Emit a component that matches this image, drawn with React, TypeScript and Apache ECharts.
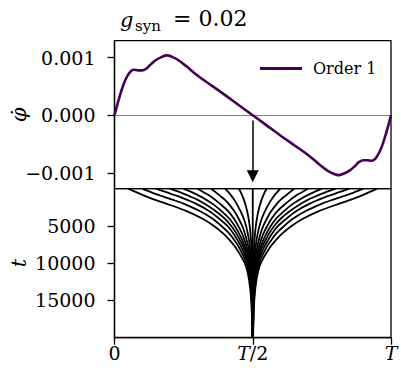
import { useEffect, useRef } from "react";
import * as echarts from "echarts";

const FONT = "DejaVu Serif";

// Top panel: phase (fraction of T) and phi-dot values
const phaseTop = [0, 0.01, 0.02, 0.03, 0.04, 0.05, 0.06, 0.07, 0.085, 0.1, 0.115, 0.13, 0.15, 0.17, 0.19, 0.21, 0.23, 0.26, 0.3, 0.35, 0.4, 0.45, 0.5,
  0.55, 0.6, 0.65, 0.7, 0.74, 0.77, 0.79, 0.81, 0.83, 0.85, 0.87, 0.885, 0.9, 0.915, 0.93, 0.94, 0.95, 0.96, 0.97, 0.98, 0.99, 1.0];
const phiDot = [0, 0.00018, 0.00035, 0.0005, 0.00062, 0.00071, 0.00077, 0.00079, 0.00078, 0.00078, 0.00081, 0.00088, 0.00096, 0.00101, 0.00104, 0.00101, 0.00096, 0.00085, 0.00069, 0.00052, 0.00035, 0.000175, 0,
  -0.000175, -0.00035, -0.00052, -0.00069, -0.00085, -0.00096, -0.00101, -0.00104, -0.00101, -0.00096, -0.00088, -0.00081, -0.00078, -0.00078, -0.00079, -0.00077, -0.00071, -0.00062, -0.0005, -0.00035, -0.00018, 0];

const yTicksTop = [-0.001, 0, 0.001];
const yTicksBottom = [5000, 10000, 15000];
const xTicks = [0, 0.5, 1];
const xTickLabels = ["0", "{i|T}/2", "{i|T}"];

// Bottom panel: time samples and trajectories (phase positions, fraction of T)
const tSamples = [0, 500, 1000, 1500, 2000, 3000, 4000, 5000, 6000, 7000, 8000, 10000, 12000, 15000, 20000];
const traj005 = [0.05, 0.0807, 0.1119, 0.147, 0.1868, 0.2608, 0.317, 0.3597, 0.3928, 0.4189, 0.44, 0.471, 0.4855, 0.4945, 0.4988];
const traj010 = [0.1, 0.1334, 0.1717, 0.2121, 0.2493, 0.3082, 0.3536, 0.3867, 0.4148, 0.4348, 0.452, 0.4773, 0.4887, 0.4957, 0.4991];
const traj015 = [0.15, 0.19, 0.2291, 0.2632, 0.2939, 0.3422, 0.3776, 0.4083, 0.4298, 0.4463, 0.461, 0.4817, 0.4909, 0.4966, 0.4993];
const traj020 = [0.2, 0.2381, 0.2707, 0.3011, 0.3245, 0.3651, 0.3982, 0.4224, 0.4406, 0.4551, 0.468, 0.4848, 0.4924, 0.4971, 0.4994];
const traj025 = [0.25, 0.2807, 0.3087, 0.3321, 0.354, 0.387, 0.415, 0.435, 0.4502, 0.4631, 0.4735, 0.4875, 0.4938, 0.4976, 0.4995];
const traj030 = [0.3, 0.3235, 0.3468, 0.3643, 0.3809, 0.4107, 0.4317, 0.4477, 0.461, 0.4711, 0.4792, 0.4902, 0.4951, 0.4982, 0.4996];
const traj035 = [0.35, 0.3666, 0.3831, 0.3996, 0.4123, 0.4329, 0.4486, 0.4618, 0.4716, 0.4787, 0.4849, 0.4929, 0.4965, 0.4987, 0.4997];
const traj040 = [0.4, 0.4125, 0.4235, 0.4331, 0.4415, 0.4557, 0.4672, 0.4757, 0.482, 0.4866, 0.4904, 0.4955, 0.4977, 0.4992, 0.4998];
const traj045 = [0.45, 0.457, 0.4629, 0.4681, 0.4725, 0.4796, 0.4849, 0.4888, 0.4917, 0.4938, 0.4955, 0.4979, 0.4989, 0.4996, 0.4999];
const traj050 = [0.5, 0.5, 0.5, 0.5, 0.5, 0.5, 0.5, 0.5, 0.5, 0.5, 0.5, 0.5, 0.5, 0.5, 0.5];
const traj055 = [0.55, 0.543, 0.5371, 0.5319, 0.5275, 0.5204, 0.5151, 0.5112, 0.5083, 0.5062, 0.5045, 0.5021, 0.5011, 0.5004, 0.5001];
const traj060 = [0.6, 0.5875, 0.5765, 0.5669, 0.5585, 0.5443, 0.5328, 0.5243, 0.518, 0.5134, 0.5096, 0.5045, 0.5023, 0.5008, 0.5002];
const traj065 = [0.65, 0.6334, 0.6169, 0.6004, 0.5877, 0.5671, 0.5514, 0.5382, 0.5284, 0.5213, 0.5151, 0.5071, 0.5035, 0.5013, 0.5003];
const traj070 = [0.7, 0.6765, 0.6532, 0.6357, 0.6191, 0.5893, 0.5683, 0.5523, 0.539, 0.5289, 0.5208, 0.5098, 0.5049, 0.5018, 0.5004];
const traj075 = [0.75, 0.7193, 0.6913, 0.6679, 0.646, 0.613, 0.585, 0.565, 0.5498, 0.5369, 0.5265, 0.5125, 0.5062, 0.5024, 0.5005];
const traj080 = [0.8, 0.7619, 0.7293, 0.6989, 0.6755, 0.6349, 0.6018, 0.5776, 0.5594, 0.5449, 0.532, 0.5152, 0.5076, 0.5029, 0.5006];
const traj085 = [0.85, 0.81, 0.7709, 0.7368, 0.7061, 0.6578, 0.6224, 0.5917, 0.5702, 0.5537, 0.539, 0.5183, 0.5091, 0.5034, 0.5007];
const traj090 = [0.9, 0.8666, 0.8283, 0.7879, 0.7507, 0.6918, 0.6464, 0.6133, 0.5852, 0.5652, 0.548, 0.5227, 0.5113, 0.5043, 0.5009];
const traj095 = [0.95, 0.9193, 0.8881, 0.853, 0.8132, 0.7392, 0.683, 0.6403, 0.6072, 0.5811, 0.56, 0.529, 0.5145, 0.5055, 0.5012];

const trajectories = [traj005, traj010, traj015, traj020, traj025, traj030, traj035, traj040, traj045, traj050,
  traj055, traj060, traj065, traj070, traj075, traj080, traj085, traj090, traj095];

const labelStyle = { fontFamily: FONT, fontSize: 19, color: "#000" };

const rotatedLabel = (text: string, x: number, y: number, size: number) => ({
  type: "group",
  x,
  y,
  rotation: Math.PI / 2,
  children: [
    {
      type: "text",
      x: 0,
      y: 0,
      style: { text, font: `italic ${size}px 'DejaVu Serif'`, fill: "#000", align: "center", verticalAlign: "middle", textAlign: "center", textVerticalAlign: "middle" },
    },
  ],
});

export default function App() {
  const ref = useRef<HTMLDivElement>(null);
  useEffect(() => {
    if (!ref.current) return;
    const chart = echarts.init(ref.current, undefined, { renderer: "svg" });
    const trajSeries = trajectories.map((tr, k) => ({
      type: "line",
      name: "traj" + k,
      xAxisIndex: 1,
      yAxisIndex: 1,
      data: tr.map((x, i) => [x, tSamples[i]]),
      symbol: "none",
      smooth: 0.3,
      silent: true,
      lineStyle: { color: "#000", width: 1.8 },
      z: 3,
    }));
    const option: any = {
      animation: false,
      backgroundColor: "#fff",
      graphic: [
        { type: "text", left: 120, top: 9, style: { text: "g", font: "italic 21px 'DejaVu Serif'", fill: "#000" } },
        { type: "text", left: 135, top: 18, style: { text: "syn", font: "15px 'DejaVu Serif'", fill: "#000" } },
        { type: "text", left: 173, top: 7, style: { text: "= 0.02", font: "22px 'DejaVu Serif'", fill: "#000" } },
        rotatedLabel("\u03C6\u0307", 19, 115, 21),
        rotatedLabel("t", 19, 263, 21),
      ],
      legend: {
        data: [{ name: "Order 1", icon: "rect" }],
        left: 260,
        top: 60.5,
        padding: 0,
        itemWidth: 42,
        itemHeight: 3,
        itemGap: 0,
        textStyle: { fontFamily: FONT, fontSize: 16, color: "#000", padding: [0, 0, 0, 6] },
      },
      grid: [
        { left: 114.5, top: 40.7, width: 276.5, height: 148, show: true, borderColor: "#000", borderWidth: 1.3, backgroundColor: "transparent" },
        { left: 114.5, top: 188.7, width: 276.5, height: 149, show: true, borderColor: "#000", borderWidth: 1.3, backgroundColor: "transparent" },
      ],
      xAxis: [
        {
          gridIndex: 0, type: "value", min: 0, max: 1,
          axisLine: { show: false }, axisTick: { show: false }, axisLabel: { show: false }, splitLine: { show: false },
        },
        {
          gridIndex: 1, type: "value", min: 0, max: 1,
          axisLine: { show: true, onZero: false, lineStyle: { color: "#000", width: 1.3 } },
          axisTick: { show: true, length: 7, customValues: xTicks, lineStyle: { color: "#000", width: 1.3 } },
          axisLabel: {
            ...labelStyle, margin: 6, customValues: xTicks,
            formatter: (v: number) => xTickLabels[xTicks.indexOf(v)] ?? "",
            rich: { i: { ...labelStyle, fontStyle: "italic" } },
          },
          splitLine: { show: false },
        },
      ],
      yAxis: [
        {
          gridIndex: 0, type: "value", min: -0.001275, max: 0.001295,
          axisLine: { show: true, onZero: false, lineStyle: { color: "#000", width: 1.3 } },
          axisTick: { show: true, length: 7, customValues: yTicksTop, lineStyle: { color: "#000", width: 1.3 } },
          axisLabel: {
            ...labelStyle, margin: 19, customValues: yTicksTop,
            formatter: (v: number) => (v < 0 ? "\u2212" : "") + Math.abs(v).toFixed(3),
          },
          splitLine: { show: false },
        },
        {
          gridIndex: 1, type: "value", min: 0, max: 20000, inverse: true,
          axisLine: { show: true, onZero: false, lineStyle: { color: "#000", width: 1.3 } },
          axisTick: { show: true, length: 7, customValues: yTicksBottom, lineStyle: { color: "#000", width: 1.3 } },
          axisLabel: { ...labelStyle, margin: 19, customValues: yTicksBottom, formatter: (v: number) => String(v) },
          splitLine: { show: false },
        },
      ],
      series: [
        {
          type: "line",
          name: "zero",
          xAxisIndex: 0,
          yAxisIndex: 0,
          data: [],
          silent: true,
          color: "#808080",
          markLine: {
            silent: true,
            symbol: "none",
            label: { show: false },
            lineStyle: { color: "#808080", width: 1, type: "solid" },
            data: [{ yAxis: 0, lineStyle: { color: "#808080", width: 1, type: "solid" } }],
          },
        },
        {
          type: "line",
          name: "arrow",
          xAxisIndex: 0,
          yAxisIndex: 0,
          data: [],
          silent: true,
          z: 4,
          color: "#000",
          markLine: {
            silent: true,
            symbol: ["none", "triangle"],
            symbolSize: 12,
            label: { show: false },
            lineStyle: { color: "#000", width: 1.5, type: "solid" },
            itemStyle: { color: "#000" },
            data: [[{ coord: [0.5, -0.00009] }, { coord: [0.5, -0.00106] }]],
          },
        },
        {
          type: "line",
          name: "Order 1",
          xAxisIndex: 0,
          yAxisIndex: 0,
          data: phaseTop.map((p, i) => [p, phiDot[i]]),
          symbol: "none",
          smooth: 0.4,
          color: "#440154",
          lineStyle: { color: "#440154", width: 2.6 },
          z: 5,
        },
        ...trajSeries,
      ],
    };
    chart.setOption(option);
    return () => chart.dispose();
  }, []);
  return <div ref={ref} style={{ position: "fixed", left: 0, top: 0, width: 401, height: 375 }} />;
}
